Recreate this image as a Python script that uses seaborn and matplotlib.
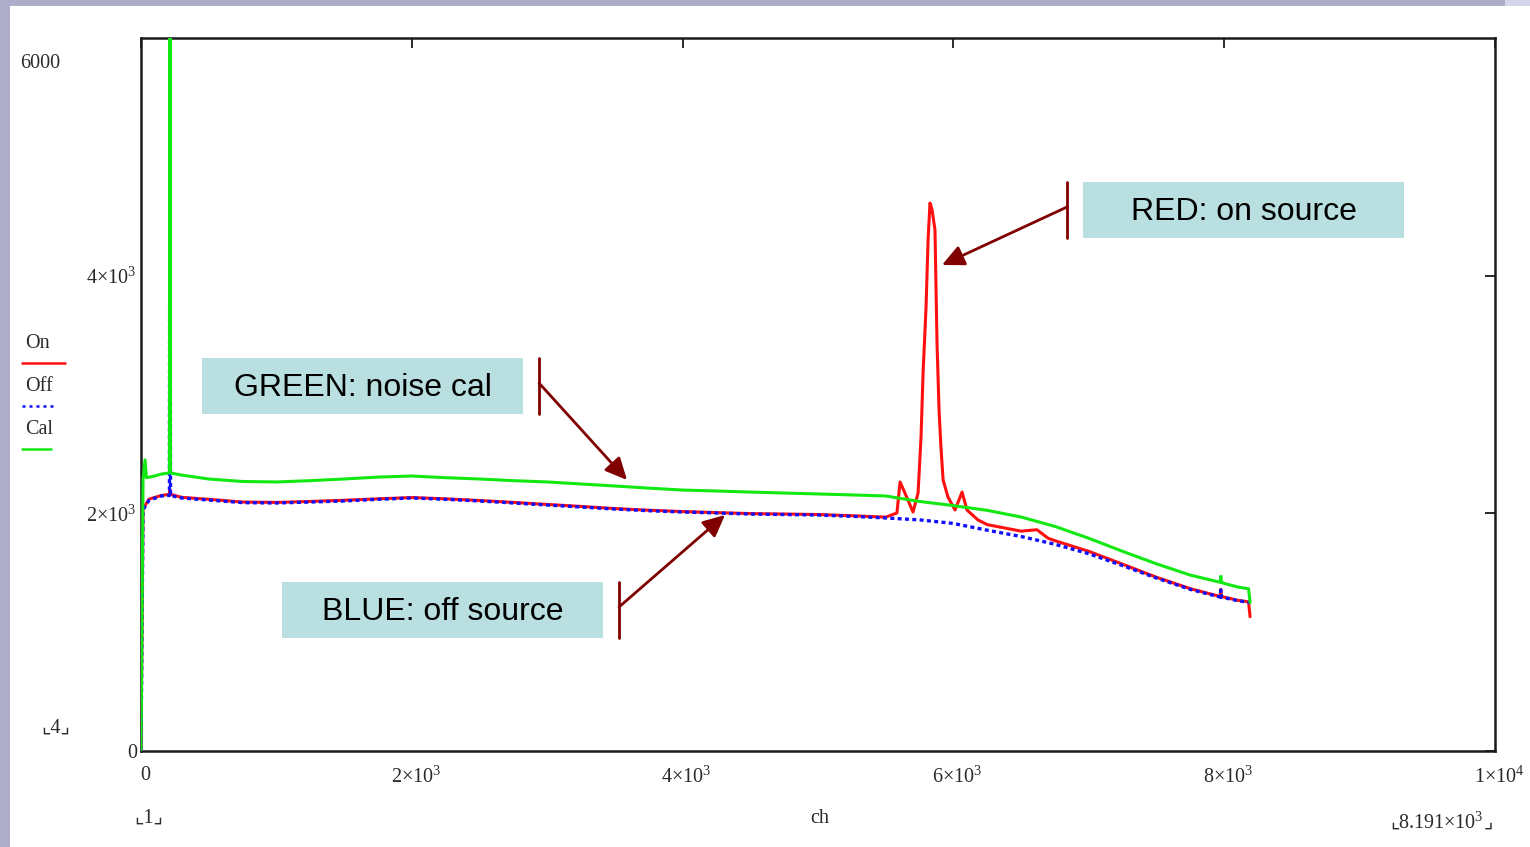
import matplotlib
matplotlib.use('Agg')
import seaborn as sns
import matplotlib.pyplot as plt
import pandas as pd
from matplotlib.patches import Rectangle, FancyArrowPatch
from matplotlib.lines import Line2D
import matplotlib.transforms as mtransforms

# ---------------- data ----------------
ch_on = [0, 15, 60, 150, 210, 214, 218, 300, 500, 750, 1000, 1250, 1500, 1750, 2000,
         2250, 2500, 2750, 3000, 3250, 3500, 3750, 4000, 4250, 4500, 4750, 5000, 5250,
         5500, 5583, 5606, 5650, 5702, 5739, 5761, 5776, 5798, 5813, 5827, 5842, 5864,
         5871, 5879, 5894, 5908, 5924, 5960, 6012, 6064, 6100, 6182, 6250, 6500, 6617,
         6700, 6750, 7000, 7250, 7500, 7750, 7970, 7975, 7980, 8000, 8100, 8180, 8191]
on_counts = [0, 2040, 2120, 2150, 2160, 2200, 2160, 2135, 2118, 2095, 2092, 2100, 2110,
             2122, 2133, 2122, 2108, 2092, 2075, 2058, 2040, 2026, 2015, 2006, 1998, 1994,
             1990, 1980, 1968, 2003, 2264, 2150, 2011, 2171, 2642, 3181, 3736, 4300, 4611,
             4556, 4384, 3938, 3433, 2870, 2558, 2280, 2137, 2028, 2179, 2028, 1944, 1905,
             1850, 1862, 1790, 1770, 1680, 1572, 1462, 1366, 1300, 1360, 1300, 1295, 1268,
             1255, 1130]

ch_off = [0, 15, 60, 150, 210, 214, 218, 300, 500, 750, 1000, 1250, 1500, 1750, 2000,
          2250, 2500, 2750, 3000, 3250, 3500, 3750, 4000, 4250, 4500, 4750, 5000, 5250,
          5500, 5750, 6000, 6250, 6500, 6750, 7000, 7250, 7500, 7750, 7970, 7975, 7980,
          8000, 8100, 8191]
off_counts = [0, 2030, 2110, 2146, 2150, 6400, 2150, 2129, 2112, 2090, 2087, 2095, 2104,
              2118, 2129, 2118, 2104, 2087, 2070, 2053, 2036, 2022, 2011, 2003, 1994, 1990,
              1986, 1975, 1961, 1945, 1915, 1858, 1805, 1740, 1660, 1560, 1455, 1360, 1295,
              1355, 1295, 1290, 1265, 1250]

ch_cal = [0, 15, 30, 40, 100, 150, 210, 214, 218, 300, 500, 750, 1000, 1250, 1500, 1750,
          2000, 2250, 2500, 2750, 3000, 3250, 3500, 3750, 4000, 4250, 4500, 4750, 5000,
          5250, 5500, 5750, 6000, 6250, 6500, 6750, 7000, 7250, 7500, 7750, 7970, 7975,
          7980, 8000, 8100, 8180, 8191]
cal_counts = [0, 2290, 2450, 2300, 2314, 2330, 2340, 6400, 2340, 2322, 2289, 2268, 2264,
              2275, 2289, 2305, 2314, 2300, 2289, 2275, 2264, 2247, 2230, 2212, 2196, 2188,
              2179, 2171, 2163, 2155, 2146, 2100, 2065, 2025, 1969, 1890, 1790, 1680, 1575,
              1480, 1420, 1470, 1420, 1410, 1380, 1365, 1250]

x_ticks = [0, 2000, 4000, 6000, 8000, 10000]
x_tick_labels = ['0', r'$\mathregular{2{\times}10^{3}}$', r'$\mathregular{4{\times}10^{3}}$',
                 r'$\mathregular{6{\times}10^{3}}$', r'$\mathregular{8{\times}10^{3}}$',
                 r'$\mathregular{1{\times}10^{4}}$']
y_ticks = [0, 2000, 4000]
y_tick_labels = ['0', r'$\mathregular{2{\times}10^{3}}$', r'$\mathregular{4{\times}10^{3}}$']
legend_labels = ['On', 'Off', 'Cal']

# ---------------- figure ----------------
sns.set_style('white')
plt.rcParams['font.family'] = ['Liberation Serif', 'DejaVu Sans']
plt.rcParams['mathtext.fontset'] = 'custom'
plt.rcParams['mathtext.rm'] = 'Liberation Serif'

W, H = 1530, 847
def fx(x):
    return x / W
def fy(y):
    return 1 - y / H

fig = plt.figure(figsize=(W / 100, H / 100), dpi=100)
fig.patch.set_facecolor('#adadca')
fig.patches.append(Rectangle((fx(1505), fy(6)), 1 - fx(1505), 1 - fy(6),
                             transform=fig.transFigure, facecolor='#d4d4ea',
                             edgecolor='none', zorder=-5))
fig.patches.append(Rectangle((fx(10), 0), 1 - fx(10), fy(6), transform=fig.transFigure,
                             facecolor='white', edgecolor='none', zorder=-5))

ax = fig.add_axes([fx(141), fy(751), fx(1495) - fx(141), fy(38) - fy(751)])
ax.set_zorder(1)
ax.set_facecolor('white')

df_on = pd.DataFrame({'ch': ch_on, 'counts': on_counts})
df_off = pd.DataFrame({'ch': ch_off, 'counts': off_counts})
df_cal = pd.DataFrame({'ch': ch_cal, 'counts': cal_counts})

sns.lineplot(data=df_on, x='ch', y='counts', ax=ax, color='#ff1010', lw=2.2,
             estimator=None, sort=False, zorder=3)
sns.lineplot(data=df_off, x='ch', y='counts', ax=ax, color='#1010ff', lw=2.4,
             linestyle=(0, (1.2, 1.0)), estimator=None, sort=False, zorder=4)
sns.lineplot(data=df_cal, x='ch', y='counts', ax=ax, color='#12e812', lw=2.2,
             estimator=None, sort=False, zorder=5)

ax.set_xlim(0, 10000)
ax.set_ylim(0, 6000)
ax.set_xlabel('')
ax.set_ylabel('')
ax.set_xticks(x_ticks)
ax.set_xticklabels(x_tick_labels, fontsize=14.5)
ax.set_yticks(y_ticks)
ax.set_yticklabels(y_tick_labels, fontsize=14.5)
ax.tick_params(axis='both', direction='in', length=7, width=1.3, color='#1a1a1a',
               top=True, right=True, labelcolor='#2a2a2a')
ax.tick_params(axis='x', pad=11)
ax.tick_params(axis='y', pad=3)
for lab in ax.get_xticklabels():
    lab.set_transform(lab.get_transform() +
                      mtransforms.ScaledTranslation(4 / 100, 0, fig.dpi_scale_trans))
for sp in ax.spines.values():
    sp.set_color('#1a1a1a')
    sp.set_linewidth(1.8)
    sp.set_visible(True)

# extra Mathcad texts
txt = dict(fontsize=14.5, color='#2a2a2a', va='center')
fig.text(fx(40), fy(63), '6000', ha='center', **txt)
fig.text(fx(56), fy(728), '⌞4⌟', ha='center', **txt)
fig.text(fx(149), fy(818), '⌞1⌟', ha='center', **txt)
fig.text(fx(820), fy(818), 'ch', ha='center', **txt)
fig.text(fx(1441), fy(823), r'$\mathregular{8.191{\times}10^{3}}$', ha='center', **txt)
fig.text(fx(1395), fy(823), '⌞', ha='center', **txt)
fig.text(fx(1488), fy(823), '⌟', ha='center', **txt)

# legend
leg_colors = ['#ff1010', '#1010ff', '#12e812']
leg_styles = ['-', (0, (1.2, 1.6)), '-']
leg_text_y = [343, 386, 429]
leg_line_x2 = [65, 57, 51]
for lab, c, ls, ty, x2 in zip(legend_labels, leg_colors, leg_styles, leg_text_y, leg_line_x2):
    fig.text(fx(25), fy(ty), lab, ha='left', **txt)
    fig.add_artist(Line2D([fx(22), fx(x2)], [fy(ty + 20)] * 2, color=c, lw=1.8,
                          linestyle=ls, transform=fig.transFigure))

# annotation boxes with arrows
box_color = '#b9dfe1'
arrow_color = '#800000'
boxes = [
    ('RED: on source', 1083, 182, 1404, 238, 1067, 207, 942, 265),
    ('GREEN: noise cal', 202, 358, 523, 414, 539, 383, 627, 480),
    ('BLUE: off source', 282, 582, 603, 638, 619, 607, 725, 515),
]
for label, x0, y0, x1, y1, lx, ly, tx, ty in boxes:
    fig.patches.append(Rectangle((fx(x0), fy(y1)), fx(x1) - fx(x0), fy(y0) - fy(y1),
                                 transform=fig.transFigure, facecolor=box_color,
                                 edgecolor='none', zorder=5))
    fig.text(fx((x0 + x1) / 2), fy((y0 + y1) / 2 + 2), label, ha='center', va='center',
             fontsize=23, family='Liberation Sans', color='black', zorder=6)
    fig.add_artist(Line2D([fx(lx), fx(lx)], [fy(y0), fy(y1)], color=arrow_color, lw=2,
                          transform=fig.transFigure, zorder=6))
    fig.add_artist(FancyArrowPatch((fx(lx), fy(ly)), (fx(tx), fy(ty)),
                                   transform=fig.transFigure,
                                   arrowstyle='-|>,head_length=0.95,head_width=0.45',
                                   mutation_scale=14, color=arrow_color, lw=2,
                                   shrinkA=0, shrinkB=0, zorder=6))

fig.savefig('out.png', dpi=100, facecolor=fig.get_facecolor())
